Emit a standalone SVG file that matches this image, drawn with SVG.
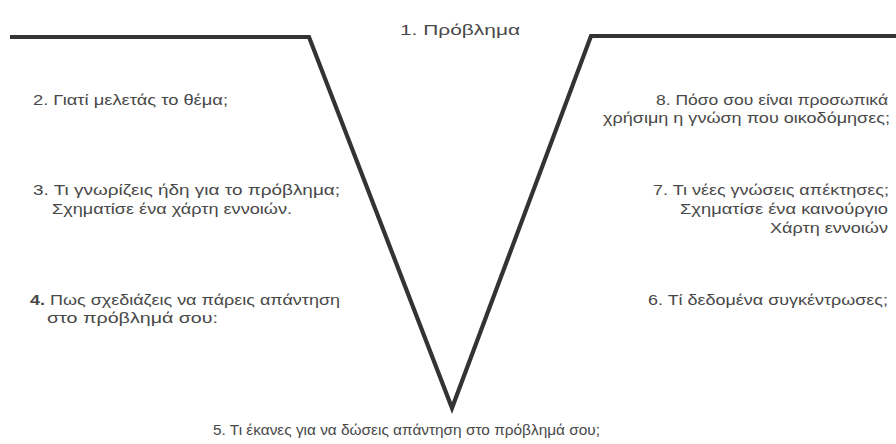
<svg xmlns="http://www.w3.org/2000/svg" width="896" height="444" viewBox="0 0 896 444">
<style>
.t{font-family:"Liberation Sans","DejaVu Sans",sans-serif;font-size:14px;fill:#484848}
.c{font-family:"Liberation Sans","DejaVu Sans",sans-serif;font-size:15px;fill:#484848}
.ln{fill:none;stroke:#333;stroke-width:4.2;stroke-linejoin:miter}
</style>
<rect width="896" height="444" fill="#fff"/>
<g id="connectors">
<polyline class="ln" points="10,37 309,37 452,408 591,36 896,36"/>
</g>
<g id="n1"><text class="c" x="400" y="35" textLength="120" lengthAdjust="spacingAndGlyphs">1. Πρόβλημα</text></g>
<g id="n2"><text class="t" x="33" y="105" textLength="195" lengthAdjust="spacingAndGlyphs">2. Γιατί μελετάς το θέμα;</text></g>
<g id="n3">
<text class="t" x="33" y="195" textLength="307" lengthAdjust="spacingAndGlyphs">3. Τι γνωρίζεις ήδη για το πρόβλημα;</text>
<text class="t" x="52" y="214" textLength="240" lengthAdjust="spacingAndGlyphs">Σχηματίσε ένα χάρτη εννοιών.</text>
</g>
<g id="n4">
<text class="c" x="30" y="305" textLength="310" lengthAdjust="spacingAndGlyphs"><tspan font-weight="bold">4.</tspan> Πως σχεδιάζεις να πάρεις απάντηση</text>
<text class="c" x="47" y="323" textLength="171" lengthAdjust="spacingAndGlyphs">στο πρόβλημά σου:</text>
</g>
<g id="n5"><text class="c" x="213" y="435" textLength="387" lengthAdjust="spacingAndGlyphs">5. Τι έκανες για να δώσεις απάντηση στο πρόβλημά σου;</text></g>
<g id="n6"><text class="c" x="648" y="305" textLength="240" lengthAdjust="spacingAndGlyphs">6. Τί δεδομένα συγκέντρωσες;</text></g>
<g id="n7">
<text class="t" x="653" y="195" textLength="236" lengthAdjust="spacingAndGlyphs">7. Τι νέες γνώσεις απέκτησες;</text>
<text class="t" x="680" y="214" textLength="208" lengthAdjust="spacingAndGlyphs">Σχηματίσε ένα καινούργιο</text>
<text class="t" x="770" y="233" textLength="118" lengthAdjust="spacingAndGlyphs">Χάρτη εννοιών</text>
</g>
<g id="n8">
<text class="t" x="656" y="105" textLength="232" lengthAdjust="spacingAndGlyphs">8. Πόσο σου είναι προσωπικά</text>
<text class="t" x="603" y="123" textLength="287" lengthAdjust="spacingAndGlyphs">χρήσιμη η γνώση που οικοδόμησες;</text>
</g>
</svg>
